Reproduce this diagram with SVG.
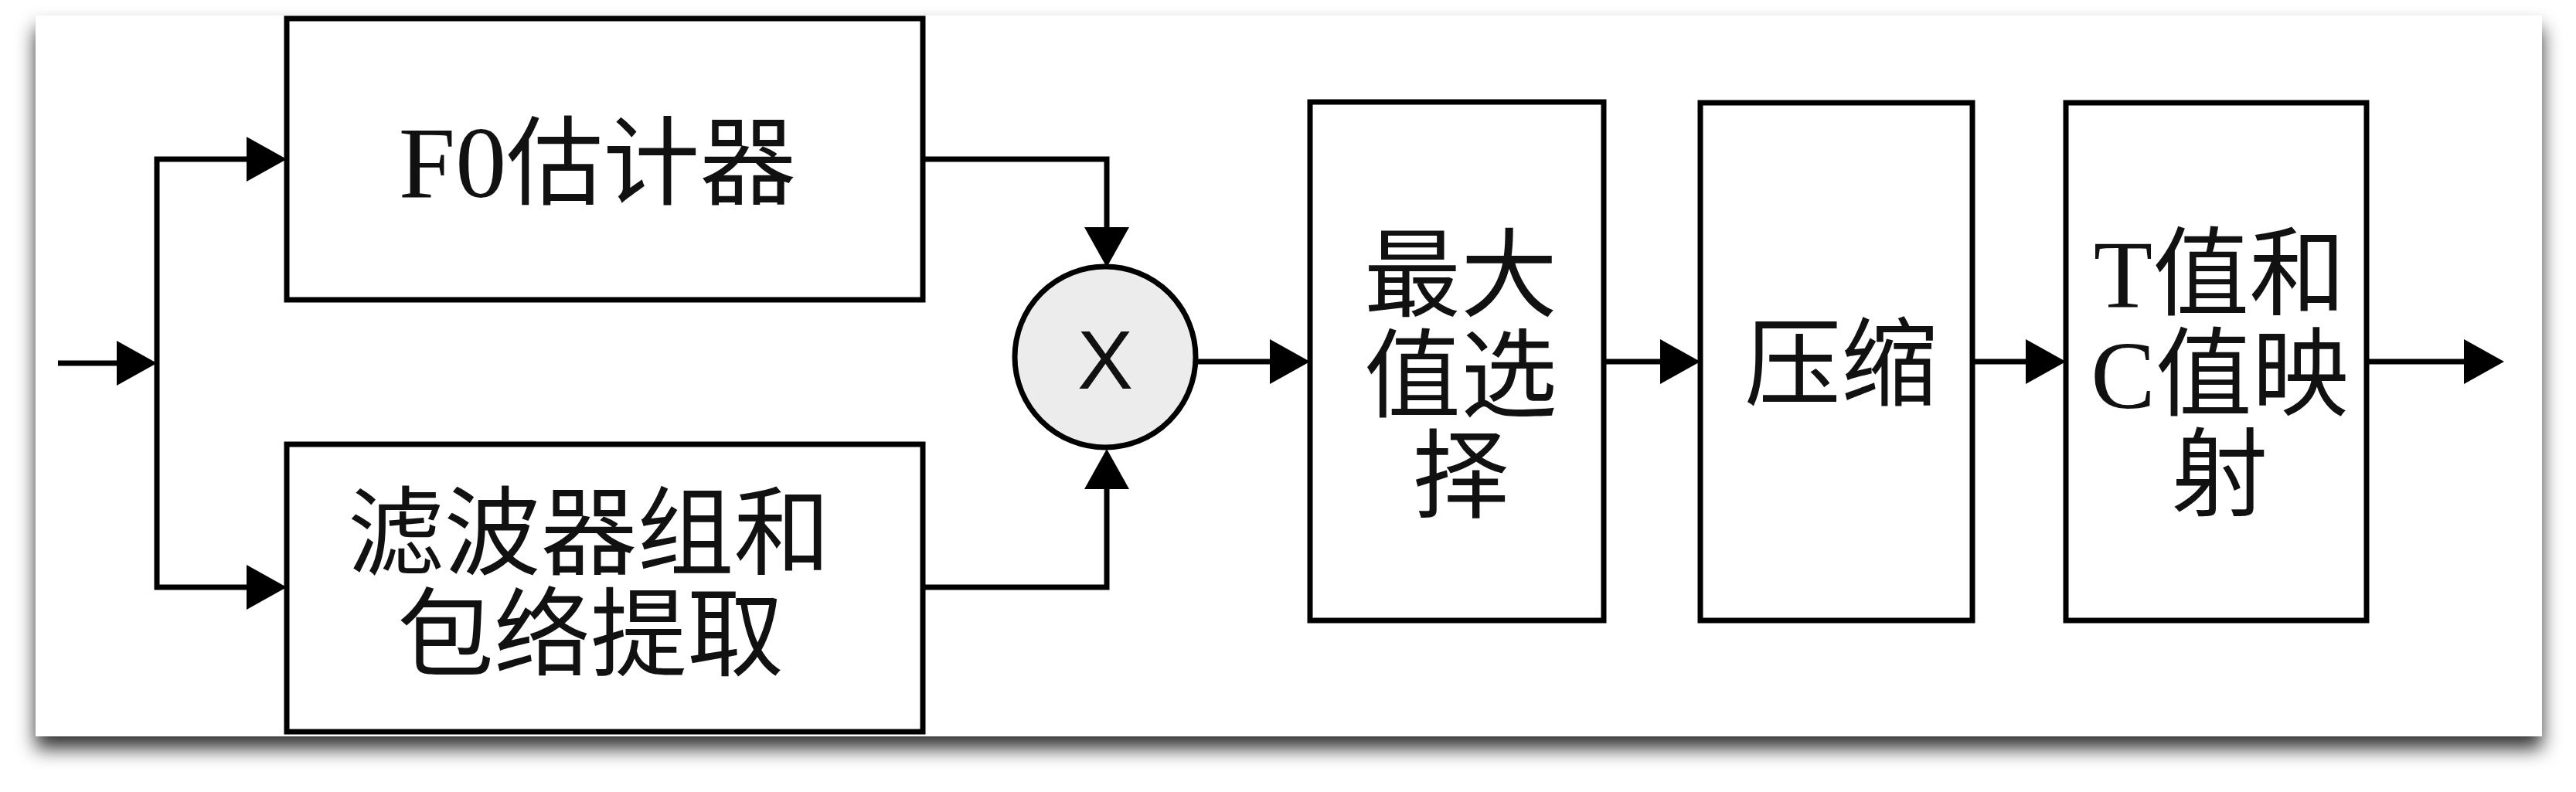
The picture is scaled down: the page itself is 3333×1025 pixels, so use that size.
<svg xmlns="http://www.w3.org/2000/svg" width="3333" height="1025" viewBox="0 0 3333 1025">
<style>
.box{fill:#fff;stroke:#000;stroke-width:7}
.ln{fill:none;stroke:#000;stroke-width:7}
.t{font-family:"Liberation Serif","Noto Sans CJK SC",serif;font-size:125px;fill:#111;text-anchor:middle}
.lat{font-size:132px}
.x{font-family:"Liberation Sans",Arial,sans-serif;font-size:108px;fill:#111;text-anchor:middle}
</style>
<defs>
<filter id="sh" x="-5%" y="-10%" width="110%" height="125%">
<feDropShadow dx="0" dy="16" stdDeviation="12" flood-color="#000" flood-opacity="0.8"/>
</filter>
<marker id="ah" viewBox="0 0 52 58" refX="42" refY="29" markerWidth="52" markerHeight="58" markerUnits="userSpaceOnUse" orient="auto">
<path d="M0,0 L52,29 L0,58 Z" fill="#000"/>
</marker>
</defs>
<rect width="3333" height="1025" fill="#fff"/>
<rect x="46" y="20" width="3243" height="933" fill="#fff" filter="url(#sh)"/>
<g id="connectors">
<path class="ln" d="M75,470 H193" marker-end="url(#ah)"/>
<path class="ln" d="M203,470 V206 H361" marker-end="url(#ah)"/>
<path class="ln" d="M203,470 V760 H361" marker-end="url(#ah)"/>
<path class="ln" d="M1194,206 H1432 V336" marker-end="url(#ah)"/>
<path class="ln" d="M1194,760 H1432 V591" marker-end="url(#ah)"/>
<path class="ln" d="M1547,468 H1685" marker-end="url(#ah)"/>
<path class="ln" d="M2075,468 H2190" marker-end="url(#ah)"/>
<path class="ln" d="M2552,468 H2663" marker-end="url(#ah)"/>
<path class="ln" d="M3062,468 H3230" marker-end="url(#ah)"/>
</g>
<g id="f0">
<rect class="box" x="371" y="24" width="823" height="364"/>
<text class="t" x="773" y="255"><tspan class="lat">F0</tspan>估计器</text>
</g>
<g id="filterbank">
<rect class="box" x="371" y="575" width="823" height="372"/>
<text class="t"><tspan x="762" y="734">滤波器组和</tspan><tspan x="764" y="865">包络提取</tspan></text>
</g>
<g id="mult">
<circle cx="1430" cy="462" r="117" fill="#ececec" stroke="#000" stroke-width="7"/>
<text class="x" x="1430" y="503">X</text>
</g>
<g id="maxsel">
<rect class="box" x="1695" y="132" width="380" height="671"/>
<text class="t"><tspan x="1890" y="400">最大</tspan><tspan x="1890" y="530">值选</tspan><tspan x="1890" y="660">择</tspan></text>
</g>
<g id="compress">
<rect class="box" x="2200" y="133" width="352" height="670"/>
<text class="t" x="2382" y="515">压缩</text>
</g>
<g id="tcmap">
<rect class="box" x="2673" y="133" width="389" height="670"/>
<text class="t"><tspan x="2872" y="398">T值和</tspan><tspan x="2872" y="528">C值映</tspan><tspan x="2872" y="658">射</tspan></text>
</g>
</svg>
